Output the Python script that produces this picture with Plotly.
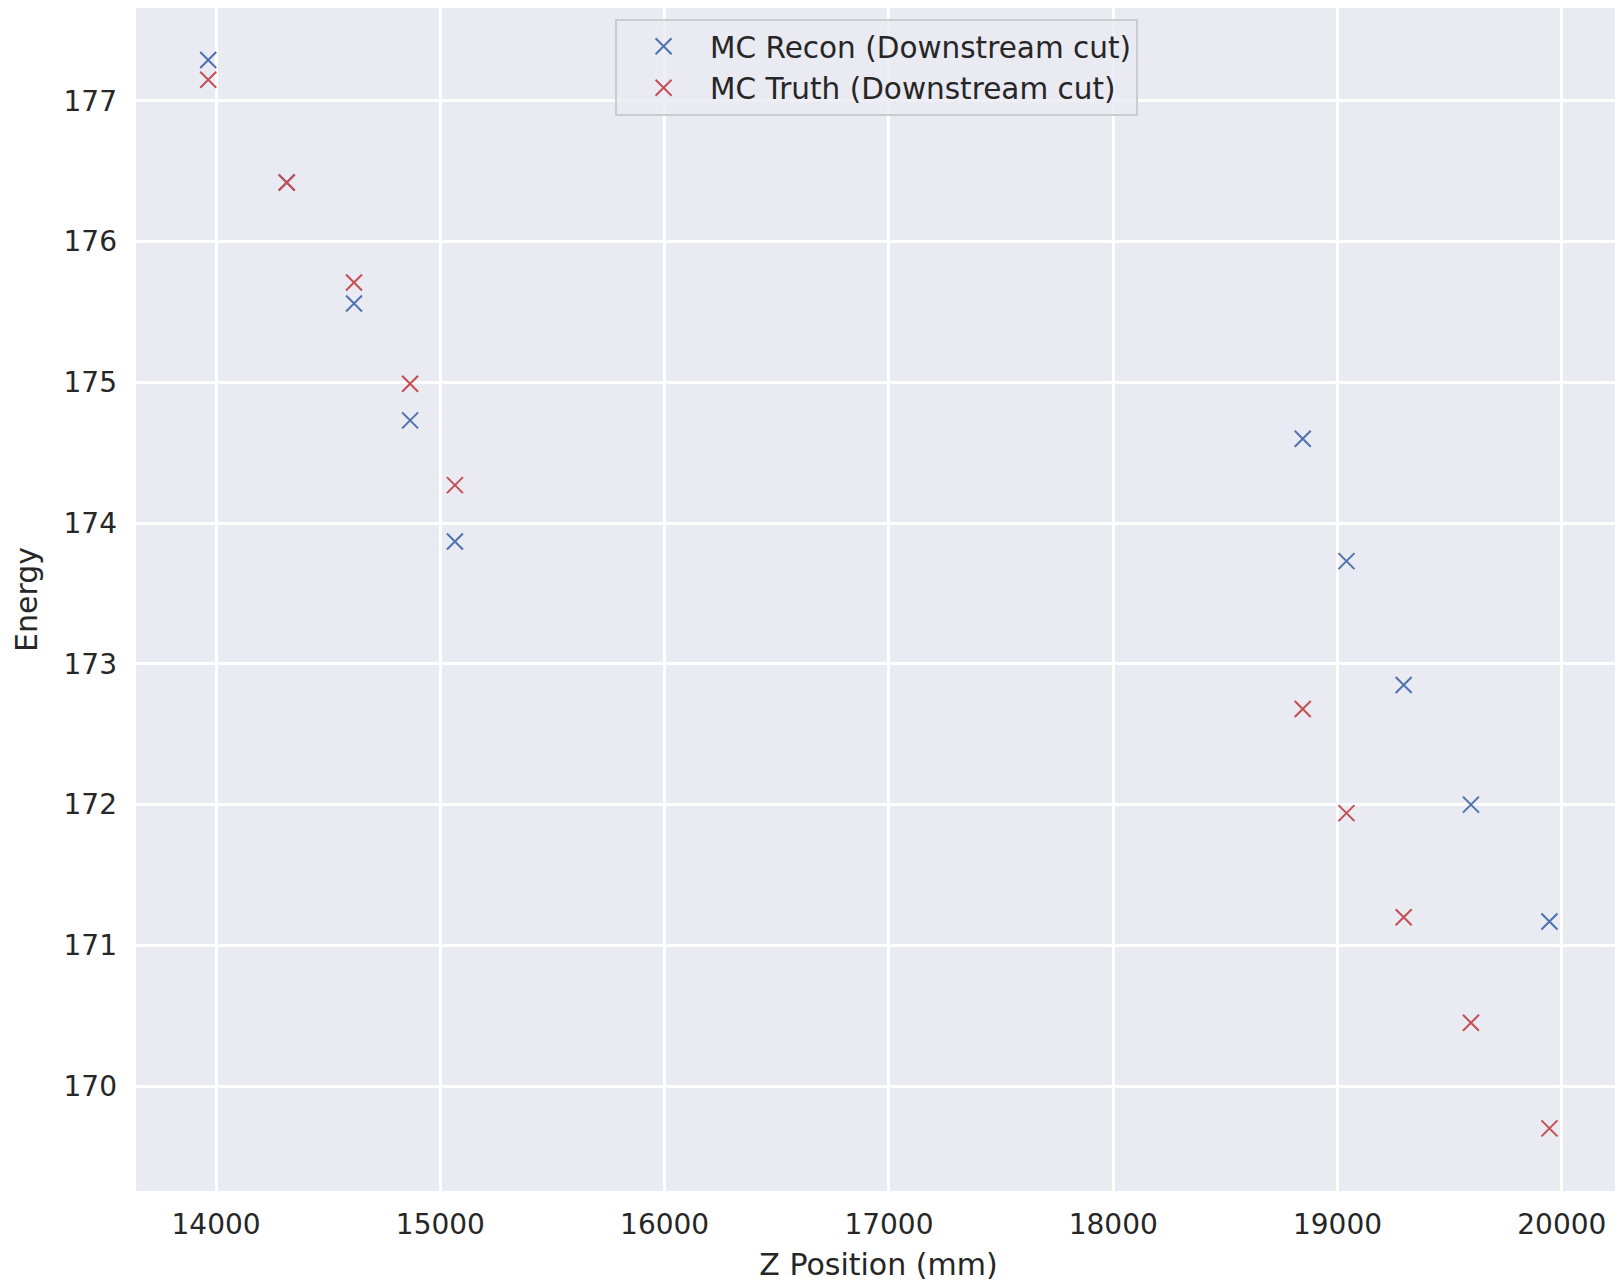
import plotly.graph_objects as go

# z positions (mm) and energies
z_recon = [13965, 14315, 14615, 14865, 15065, 18845, 19040, 19295, 19595, 19945]
e_recon = [177.29, 176.42, 175.56, 174.73, 173.87, 174.60, 173.73, 172.85, 172.00, 171.17]

z_truth = [13965, 14315, 14615, 14865, 15065, 18845, 19040, 19295, 19595, 19945]
e_truth = [177.15, 176.42, 175.71, 174.99, 174.27, 172.68, 171.94, 171.20, 170.45, 169.70]

blue = "#4C72B0"
red = "#C44E52"
txt = "#262626"

fig = go.Figure()
fig.add_trace(go.Scatter(
    x=z_recon, y=e_recon, mode="markers", name="MC Recon (Downstream cut)",
    marker=dict(symbol="x-thin", size=16, line=dict(color=blue, width=2), color=blue),
))
fig.add_trace(go.Scatter(
    x=z_truth, y=e_truth, mode="markers", name="MC Truth (Downstream cut)",
    marker=dict(symbol="x-thin", size=16, line=dict(color=red, width=2), color=red),
))

# page body has an 8px default margin, so the figure is a bit smaller
fig.update_layout(
    width=1615, height=1277,
    margin=dict(l=128, r=2, t=0, b=94),
    paper_bgcolor="white",
    plot_bgcolor="#EAEAF2",
    font=dict(family="DejaVu Sans", size=28, color=txt),
    showlegend=True,
    legend=dict(
        x=0.3226, y=0.991, xanchor="left", yanchor="top",
        bgcolor="rgba(234,234,242,0.8)", bordercolor="#CCCCCC", borderwidth=2,
        font=dict(size=29.5, color=txt),
        itemwidth=83,
    ),
    xaxis=dict(
        title=dict(text="Z Position (mm)", font=dict(size=30), standoff=13),
        range=[13643, 20264], dtick=1000, tick0=14000, tickformat="d",
        showgrid=True, gridcolor="white", gridwidth=2.5,
        zeroline=False, showline=False, ticks="", ticklen=0,
        ticklabelstandoff=14, automargin=False,
    ),
    yaxis=dict(
        title=dict(text="Energy", font=dict(size=30), standoff=17),
        range=[169.255, 177.66], dtick=1, tick0=170, tickformat="d",
        showgrid=True, gridcolor="white", gridwidth=2.5,
        zeroline=False, showline=False, ticks="", ticklen=0,
        ticklabelstandoff=18, automargin=False,
    ),
)

fig.write_html("out.html")
